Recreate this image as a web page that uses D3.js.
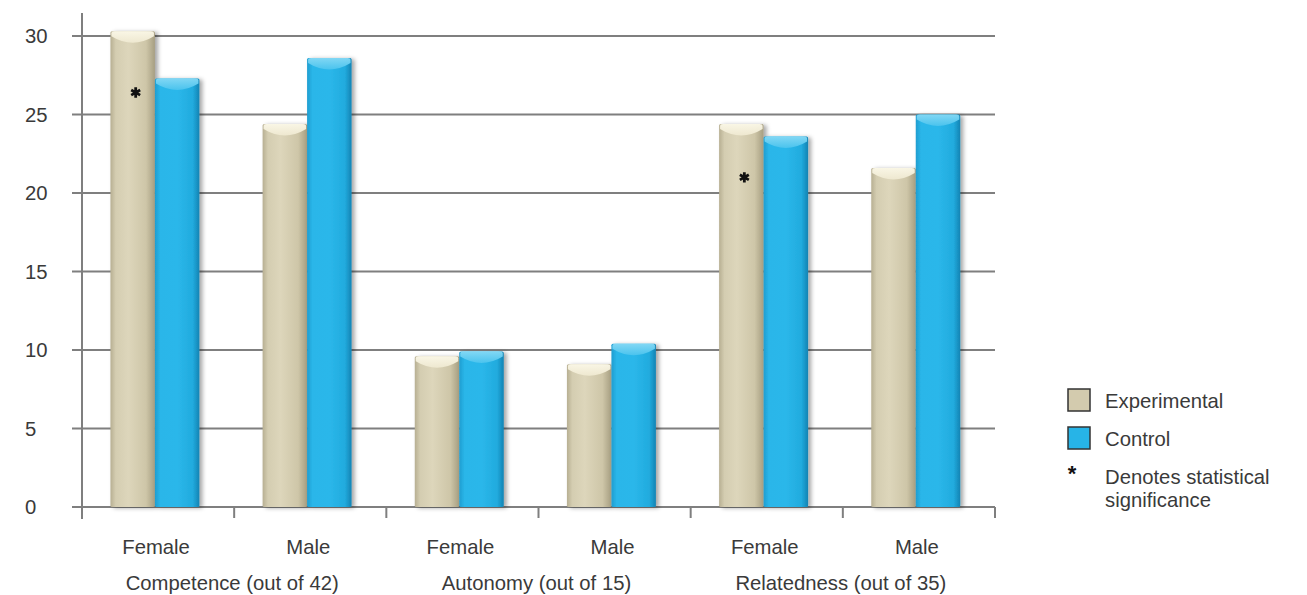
<!DOCTYPE html>
<html>
<head>
<meta charset="utf-8">
<script src="https://cdn.jsdelivr.net/npm/d3@7"></script>
<style>
  html, body { margin: 0; padding: 0; background: #ffffff; }
  svg { display: block; }
  text { font-family: "Liberation Sans", Arial, Helvetica, sans-serif; fill: #3a3a3a; }
</style>
</head>
<body>
<svg id="chart" width="1307" height="595"></svg>
<script>
// ---- data ----
const groups = ["Competence (out of 42)", "Autonomy (out of 15)", "Relatedness (out of 35)"];
const genders = ["Female", "Male"];
const series = ["Experimental", "Control"];
const experimental = [30.3, 24.4, 9.6, 9.1, 24.4, 21.6];
const control = [27.3, 28.6, 9.9, 10.4, 23.6, 25.0];
const significance = [26.4, null, null, null, 21.0, null]; // asterisk positions (value units) on Experimental bars
const yTicks = [0, 5, 10, 15, 20, 25, 30];
const legendNote = ["Denotes statistical", "significance"];

// ---- derived ----
const cats = [];
groups.forEach((g, gi) => genders.forEach((s, si) => cats.push({ id: gi + "-" + si, group: g, gender: s, gi })));
const rows = cats.map((c, i) => ({ ...c, Experimental: experimental[i], Control: control[i], sig: significance[i] }));

const svg = d3.select("#chart");
const left = 82, right = 995, top0 = 36, bottom = 507;
const FS = 20.3;

const x = d3.scaleBand().domain(cats.map(c => c.id)).range([left, right]).paddingInner(0).paddingOuter(0);
const xs = d3.scaleBand().domain(series).range([0, x.bandwidth()]).paddingInner(0).paddingOuter(0.71).align(0.45);
const y = d3.scaleLinear().domain([0, 30]).range([bottom, top0]);

const colors = { Experimental: "#d3cbae", Control: "#27b4e7" };

// defs: gradients and shadow
const defs = svg.append("defs");
const grads = {
  Experimental: [["0%", "#b7af92"], ["12%", "#d4cdb1"], ["40%", "#ddd6bb"], ["80%", "#cec6a8"], ["100%", "#a69e81"]],
  Control: [["0%", "#1e9dd0"], ["12%", "#2ab6e9"], ["50%", "#2bb7ea"], ["85%", "#21abde"], ["100%", "#1483b3"]]
};
Object.entries(grads).forEach(([k, stops]) => {
  const g = defs.append("linearGradient").attr("id", "g-" + k).attr("x1", "0").attr("x2", "1").attr("y1", "0").attr("y2", "0");
  stops.forEach(s => g.append("stop").attr("offset", s[0]).attr("stop-color", s[1]));
});
const caps = {
  Experimental: ["#fbf8e8", "#efe9d1"],
  Control: ["#86d9f5", "#4cc4ee"]
};
Object.entries(caps).forEach(([k, c]) => {
  const g = defs.append("linearGradient").attr("id", "c-" + k).attr("x1", "0").attr("x2", "0").attr("y1", "0").attr("y2", "1");
  g.append("stop").attr("offset", "0%").attr("stop-color", c[0]);
  g.append("stop").attr("offset", "100%").attr("stop-color", c[1]);
});
const f = defs.append("filter").attr("id", "shadow").attr("x", "-20%").attr("y", "-5%").attr("width", "150%").attr("height", "110%");
f.append("feDropShadow").attr("dx", 3).attr("dy", 1).attr("stdDeviation", 2).attr("flood-color", "#000").attr("flood-opacity", 0.35);

// gridlines
svg.append("g").selectAll("line").data(yTicks).join("line")
  .attr("x1", left - 10).attr("x2", right)
  .attr("y1", d => y(d)).attr("y2", d => y(d))
  .attr("stroke", "#7f7f7f").attr("stroke-width", 2);

// y axis line
svg.append("line").attr("x1", left).attr("x2", left).attr("y1", 13).attr("y2", bottom + 12)
  .attr("stroke", "#7f7f7f").attr("stroke-width", 2);

// x ticks at band edges
const edges = cats.map(c => x(c.id)).concat([right]);
svg.append("g").selectAll("line").data(edges).join("line")
  .attr("x1", d => d).attr("x2", d => d).attr("y1", bottom).attr("y2", bottom + 11)
  .attr("stroke", "#7f7f7f").attr("stroke-width", 2);

// y tick labels
svg.append("g").selectAll("text").data(yTicks).join("text")
  .attr("x", 25).attr("y", d => y(d)).attr("dy", "0.36em")
  .attr("font-size", FS).text(d => d);

// bars
const barG = svg.append("g");
rows.forEach(r => {
  series.forEach(s => {
    const bx = x(r.id) + xs(s), bw = xs.bandwidth(), by = y(r[s]);
    const g = barG.append("g");
    g.append("rect").attr("x", bx).attr("y", by).attr("width", bw).attr("height", y(0) - by)
      .attr("fill", "url(#g-" + s + ")").attr("filter", "url(#shadow)").attr("rx", 1.5);
    const capH = 14;
    g.append("path")
      .attr("d", `M${bx + 1},${by + 2} Q${bx + 1},${by} ${bx + 4},${by} L${bx + bw - 4},${by} Q${bx + bw - 1},${by} ${bx + bw - 1},${by + 2} L${bx + bw - 1},${by + 5} Q${bx + bw / 2},${by + capH + 4} ${bx + 1},${by + 5} Z`)
      .attr("fill", "url(#c-" + s + ")").attr("opacity", 0.95);
  });
});

// significance asterisks
const star = d3.symbol().type(d3.symbolAsterisk).size(75);
rows.filter(r => r.sig != null).forEach(r => {
  const cx = x(r.id) + xs("Experimental") + xs.bandwidth() / 2 + 3;
  svg.append("path").attr("d", star()).attr("transform", `translate(${cx},${y(r.sig)})`)
    .attr("stroke", "#111").attr("stroke-width", 2.8).attr("fill", "none");
});

// x labels
svg.append("g").selectAll("text").data(cats).join("text")
  .attr("x", d => x(d.id) + x.bandwidth() / 2 - 2).attr("y", 554)
  .attr("text-anchor", "middle").attr("font-size", FS).text(d => d.gender);

svg.append("g").selectAll("text").data(groups).join("text")
  .attr("x", (d, i) => x(i + "-0") + x.bandwidth() - 2)
  .attr("y", 590).attr("text-anchor", "middle").attr("font-size", FS).text(d => d);

// legend
const lg = svg.append("g");
series.forEach((s, i) => {
  const ly = 389 + i * 38;
  lg.append("rect").attr("x", 1068).attr("y", ly).attr("width", 22).attr("height", 22)
    .attr("fill", colors[s]).attr("stroke", "#333").attr("stroke-width", 1.5);
  lg.append("text").attr("x", 1105).attr("y", ly + 12).attr("dy", "0.36em").attr("font-size", FS).text(s);
});
lg.append("text").attr("x", 1072).attr("y", 481).attr("text-anchor", "middle").attr("font-size", 22).attr("font-weight", "bold").style("fill", "#111").text("*");
legendNote.forEach((t, i) => {
  lg.append("text").attr("x", 1105).attr("y", 477 + i * 23).attr("dy", "0.36em").attr("font-size", FS).text(t);
});
</script>
</body>
</html>
